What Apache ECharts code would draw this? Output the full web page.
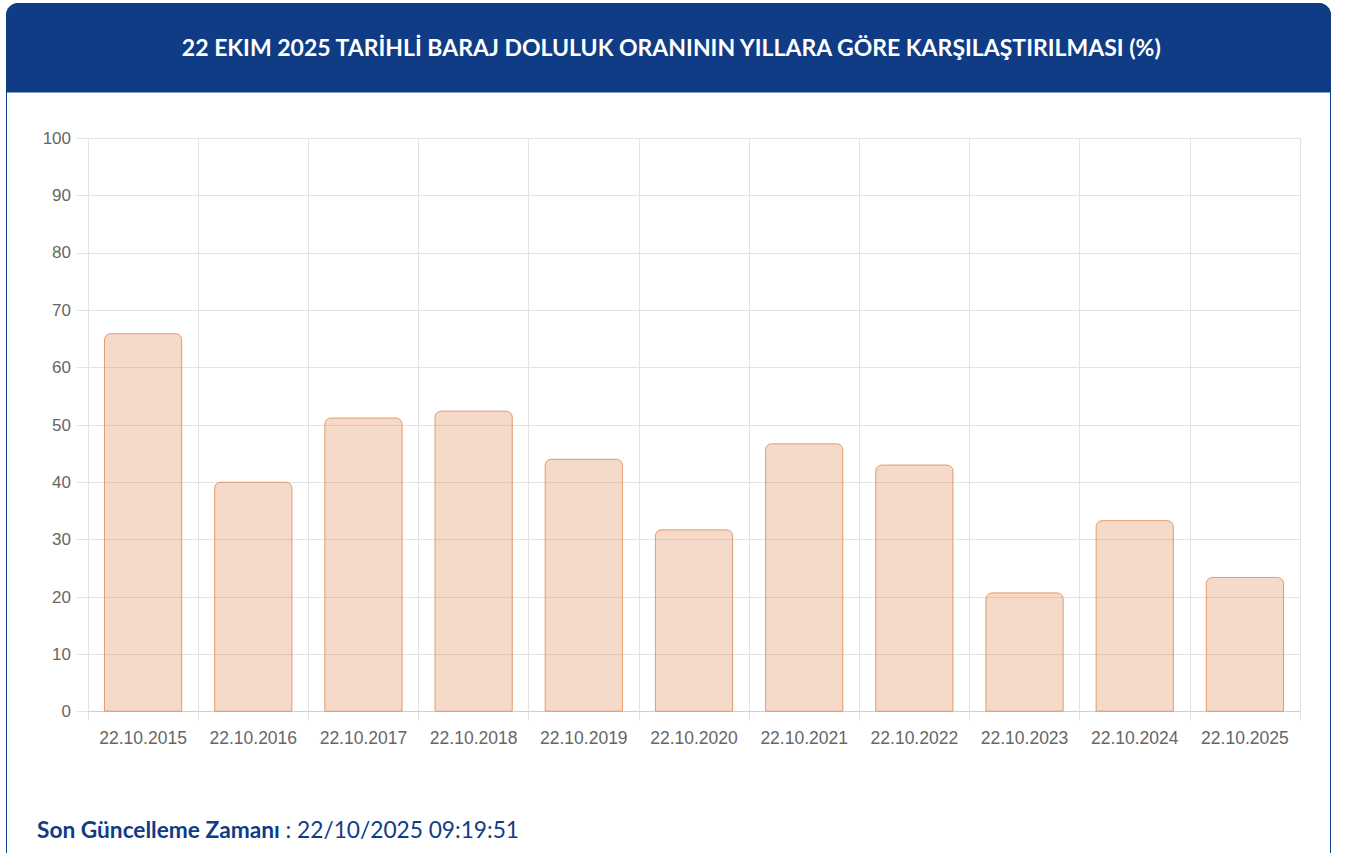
<!DOCTYPE html>
<html><head><meta charset="utf-8">
<script src="https://cdn.jsdelivr.net/npm/echarts@6/dist/echarts.min.js"></script>
<style>html,body{margin:0;padding:0;background:#fff;}#c{width:1345px;height:853px;}</style>
</head><body><div id="c"></div>
<script>
const titleText = '22 EKIM 2025 TARİHLİ BARAJ DOLULUK ORANININ YILLARA GÖRE KARŞILAŞTIRILMASI (%)';
const categories = ['22.10.2015','22.10.2016','22.10.2017','22.10.2018','22.10.2019','22.10.2020','22.10.2021','22.10.2022','22.10.2023','22.10.2024','22.10.2025'];
const values = [66.0, 40.1, 51.3, 52.5, 44.1, 31.8, 46.8, 43.1, 20.8, 33.4, 23.5];
const footerLabel = 'Son Güncelleme Zamanı';
const footerValue = ' : 22/10/2025 09:19:51';

const navy = '#0F3C85';
const labelFont = '"Liberation Sans", Arial, sans-serif';
const chart = echarts.init(document.getElementById('c'), null, {renderer:'svg'});
chart.setOption({
  animation:false,
  graphic:[
    {type:'rect', z:0, shape:{x:6.5,y:3.5,width:1324,height:900,r:[12,12,0,0]}, style:{fill:'#fff',stroke:navy,lineWidth:1}},
    {type:'rect', z:1, shape:{x:6,y:3,width:1325,height:89.5,r:[12,12,0,0]}, style:{fill:navy}},
    {type:'text', z:2, left:'center', top:35, style:{text:titleText, fill:'#fff', font:'bold 23px Lato, "Noto Sans", sans-serif'}},
    {type:'text', z:2, left:37, top:818, style:{
      text:'{b|'+footerLabel+'}{r|'+footerValue+'}',
      rich:{
        b:{fill:navy, font:'bold 22.7px Lato, "Noto Sans", sans-serif'},
        r:{fill:navy, font:'22.7px Lato, "Noto Sans", sans-serif'}
      }}}
  ],
  grid:{left:88,right:45,top:138.3,bottom:141.3,show:true,borderColor:'#e2e2e2',borderWidth:1,containLabel:false},
  xAxis:{
    type:'category', data:categories,
    axisLine:{show:true,lineStyle:{color:'#cfcfcf'}},
    axisTick:{show:true,interval:0,length:9,lineStyle:{color:'#e2e2e2'}},
    splitLine:{show:true,interval:0,lineStyle:{color:'#e2e2e2'}},
    axisLabel:{interval:0,hideOverlap:false,color:'#666',fontSize:17.5,fontFamily:labelFont,margin:17}
  },
  yAxis:{
    type:'value', min:0, max:100, interval:10,
    axisLine:{show:true,lineStyle:{color:'#e2e2e2'}},
    axisTick:{show:true,length:11,lineStyle:{color:'#e2e2e2'}},
    splitLine:{show:true,lineStyle:{color:'#e2e2e2'}},
    axisLabel:{color:'#666',fontSize:17,fontFamily:labelFont,margin:17}
  },
  series:[{
    type:'bar', data:values, barWidth:'71%', z:1,
    itemStyle:{color:'rgba(230,150,100,0.35)',borderColor:'rgba(225,145,95,0.9)',borderWidth:1,borderRadius:[6,6,0,0]}
  }]
});
</script></body></html>
